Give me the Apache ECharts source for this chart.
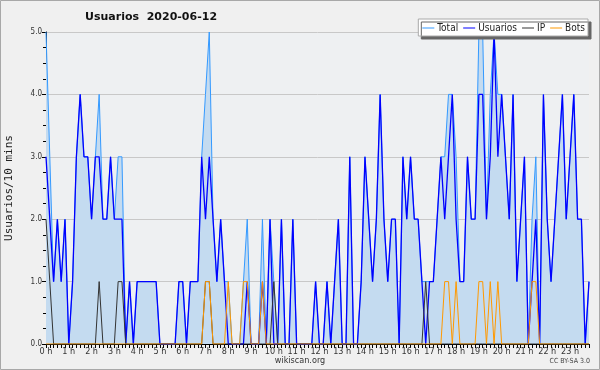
<!DOCTYPE html>
<html>
<head>
<meta charset="utf-8">
<script src="https://cdn.jsdelivr.net/npm/echarts@6/dist/echarts.min.js"></script>
<style>
html,body{margin:0;padding:0;background:#f0f0f0;}
#c{width:600px;height:370px;}
</style>
</head>
<body>
<div id="c"></div>
<script>
// hour tick labels
const hours = ['0 h','1 h','2 h','3 h','4 h','5 h','6 h','7 h','8 h','9 h','10 h','11 h','12 h','13 h','14 h','15 h','16 h','17 h','18 h','19 h','20 h','21 h','22 h','23 h'];
const yTicks = ['0.0','1.0','2.0','3.0','4.0','5.0'];
// 10-minute slots
const slotMinutes = ['00','10','20','30','40','50'];

const total = [
 5,3,1,2,1,2, 0,1,3,4,3,3, 2,3,4,2,2,3, 2,3,3,0,1,0,
 1,1,1,1,1,1, 0,0,0,0,0,1, 1,0,1,1,1,3, 4,5,2,1,2,1,
 1,0,0,0,1,2, 0,0,0,2,0,2, 1,0,2,0,0,2, 0,0,0,0,0,1,
 0,0,1,0,1,2, 0,0,3,0,0,1, 3,2,1,2,4,2, 1,2,2,0,3,2,
 3,2,2,1,1,1, 1,2,3,3,4,4, 3,1,1,3,2,2, 5,5,2,4,5,4,
 4,3,2,4,1,2, 3,0,2,3,0,4, 2,1,2,3,4,2, 3,4,2,2,0,1
];
const usuarios = [
 3,2,1,2,1,2, 0,1,3,4,3,3, 2,3,3,2,2,3, 2,2,2,0,1,0,
 1,1,1,1,1,1, 0,0,0,0,0,1, 1,0,1,1,1,3, 2,3,2,1,2,1,
 0,0,0,0,0,1, 0,0,0,1,0,2, 0,0,2,0,0,2, 0,0,0,0,0,1,
 0,0,1,0,1,2, 0,0,3,0,0,1, 3,2,1,2,4,2, 1,2,2,0,3,2,
 3,2,2,1,0,1, 1,2,3,2,3,4, 2,1,1,3,2,2, 4,4,2,3,5,3,
 4,3,2,4,1,2, 3,0,1,2,0,4, 2,1,2,3,4,2, 3,4,2,2,0,1
];
const ip = [
 2,1,0,0,0,0, 0,0,0,0,0,0, 0,0,1,0,0,0, 0,1,1,0,0,0,
 0,0,0,0,0,0, 0,0,0,0,0,0, 0,0,0,0,0,0, 1,1,0,0,0,0,
 0,0,0,0,0,0, 0,0,0,0,0,0, 1,0,0,0,0,0, 0,0,0,0,0,0,
 0,0,0,0,0,0, 0,0,0,0,0,0, 0,0,0,0,0,0, 0,0,0,0,0,0,
 0,0,0,0,1,0, 0,0,0,0,0,0, 0,0,0,0,0,0, 0,0,0,0,0,0,
 0,0,0,0,0,0, 0,0,0,0,0,0, 0,0,0,0,0,0, 0,0,0,0,0,0
];
const bots = [
 0,0,0,0,0,0, 0,0,0,0,0,0, 0,0,0,0,0,0, 0,0,0,0,0,0,
 0,0,0,0,0,0, 0,0,0,0,0,0, 0,0,0,0,0,0, 1,1,0,0,0,0,
 1,0,0,0,1,1, 0,0,0,1,0,0, 0,0,0,0,0,0, 0,0,0,0,0,0,
 0,0,0,0,0,0, 0,0,0,0,0,0, 0,0,0,0,0,0, 0,0,0,0,0,0,
 0,0,0,0,0,0, 0,0,0,1,1,0, 1,0,0,0,0,0, 1,1,0,1,0,1,
 0,0,0,0,0,0, 0,0,1,1,0,0, 0,0,0,0,0,0, 0,0,0,0,0,0
];

const categories = [];
hours.forEach(h => slotMinutes.forEach(m => categories.push(h.replace(' h','') + ':' + m)));

const chart = echarts.init(document.getElementById('c'), null, {renderer:'canvas'});
const FONT = 'DejaVu Sans Condensed, DejaVu Sans, sans-serif';
chart.setOption({
  backgroundColor: '#f0f0f0',
  animation: false,
  title: {
    text: 'Usuarios  2020-06-12',
    left: 85, top: 12, padding: 0,
    textStyle: {fontFamily: 'DejaVu Sans, sans-serif', fontWeight: 'bold', fontSize: 11, color: '#111'}
  },
  legend: {
    right: 12, top: 19,
    itemWidth: 12, itemHeight: 1, itemGap: 5,
    icon: 'rect',
    backgroundColor: '#ffffff',
    borderColor: '#aaa', borderWidth: 1,
    padding: [4, 3, 3, 4],
    shadowColor: '#666', shadowBlur: 0, shadowOffsetX: 3, shadowOffsetY: 3,
    textStyle: {fontFamily: FONT, fontSize: 10, color: '#222', padding: [0,0,0,-2]},
    data: ['Total','Usuarios','IP','Bots']
  },
  grid: {left: 46, right: 11, top: 32, bottom: 26, containLabel: false, outerBoundsMode: 'none',
         show: true, backgroundColor: '#eef0f2', borderWidth: 0},
  xAxis: {
    type: 'category',
    data: categories,
    boundaryGap: false,
    axisLine: {lineStyle: {color: '#000', width: 1}},
    axisTick: {show: true, interval: 0, length: 4, lineStyle: {color: '#000'}},
    axisLabel: {
      interval: (idx) => idx % 6 === 0,
      formatter: (val, idx) => hours[Math.floor(idx / 6)],
      fontFamily: FONT, fontSize: 9, color: '#333', margin: 3
    },
    splitLine: {show: false}
  },
  yAxis: {
    type: 'value',
    min: 0, max: 5, interval: 1,
    name: 'Usuarios/10 mins',
    nameLocation: 'middle', nameRotate: 90, nameGap: 31,
    nameTextStyle: {fontFamily: 'DejaVu Sans Mono, monospace', fontSize: 11, color: '#222'},
    axisLine: {show: true, lineStyle: {color: '#000', width: 1}},
    axisTick: {show: true, length: 4, lineStyle: {color: '#000'}},
    minorTick: {show: true, splitNumber: 4, length: 3, lineStyle: {color: '#000'}},
    axisLabel: {formatter: (v) => yTicks[Math.round(v)], fontFamily: FONT, fontSize: 8, color: '#333', margin: 4},
    splitLine: {show: true, lineStyle: {color: '#c8c8c8', width: 1}}
  },
  series: [
    {name: 'Total', type: 'line', data: total, showSymbol: false, symbol: 'none',
     lineStyle: {color: '#3399ff', width: 1}, itemStyle: {color: '#3399ff'},
     areaStyle: {color: '#c4dbf0', opacity: 1}, z: 2},
    {name: 'Usuarios', type: 'line', data: usuarios, showSymbol: false, symbol: 'none',
     lineStyle: {color: '#0000ff', width: 1.3}, itemStyle: {color: '#0000ff'}, z: 3},
    {name: 'IP', type: 'line', data: ip, showSymbol: false, symbol: 'none',
     lineStyle: {color: '#333333', width: 1}, itemStyle: {color: '#333333'}, z: 4},
    {name: 'Bots', type: 'line', data: bots, showSymbol: false, symbol: 'none',
     lineStyle: {color: '#ff9900', width: 1}, itemStyle: {color: '#ff9900'}, z: 5}
  ],
  graphic: [
    {type: 'rect', shape: {x: 0.5, y: 0.5, width: 599, height: 369}, style: {fill: 'none', stroke: '#a8a8a8', lineWidth: 1}, silent: true},
    {type: 'text', x: 300, y: 356, style: {text: 'wikiscan.org', fontFamily: FONT, fontSize: 9, fill: '#333', textAlign: 'center'}},
    {type: 'text', x: 590, y: 358, style: {text: 'CC BY-SA 3.0', fontFamily: FONT, fontSize: 7, fill: '#444', textAlign: 'right'}}
  ]
});
</script>
</body>
</html>
